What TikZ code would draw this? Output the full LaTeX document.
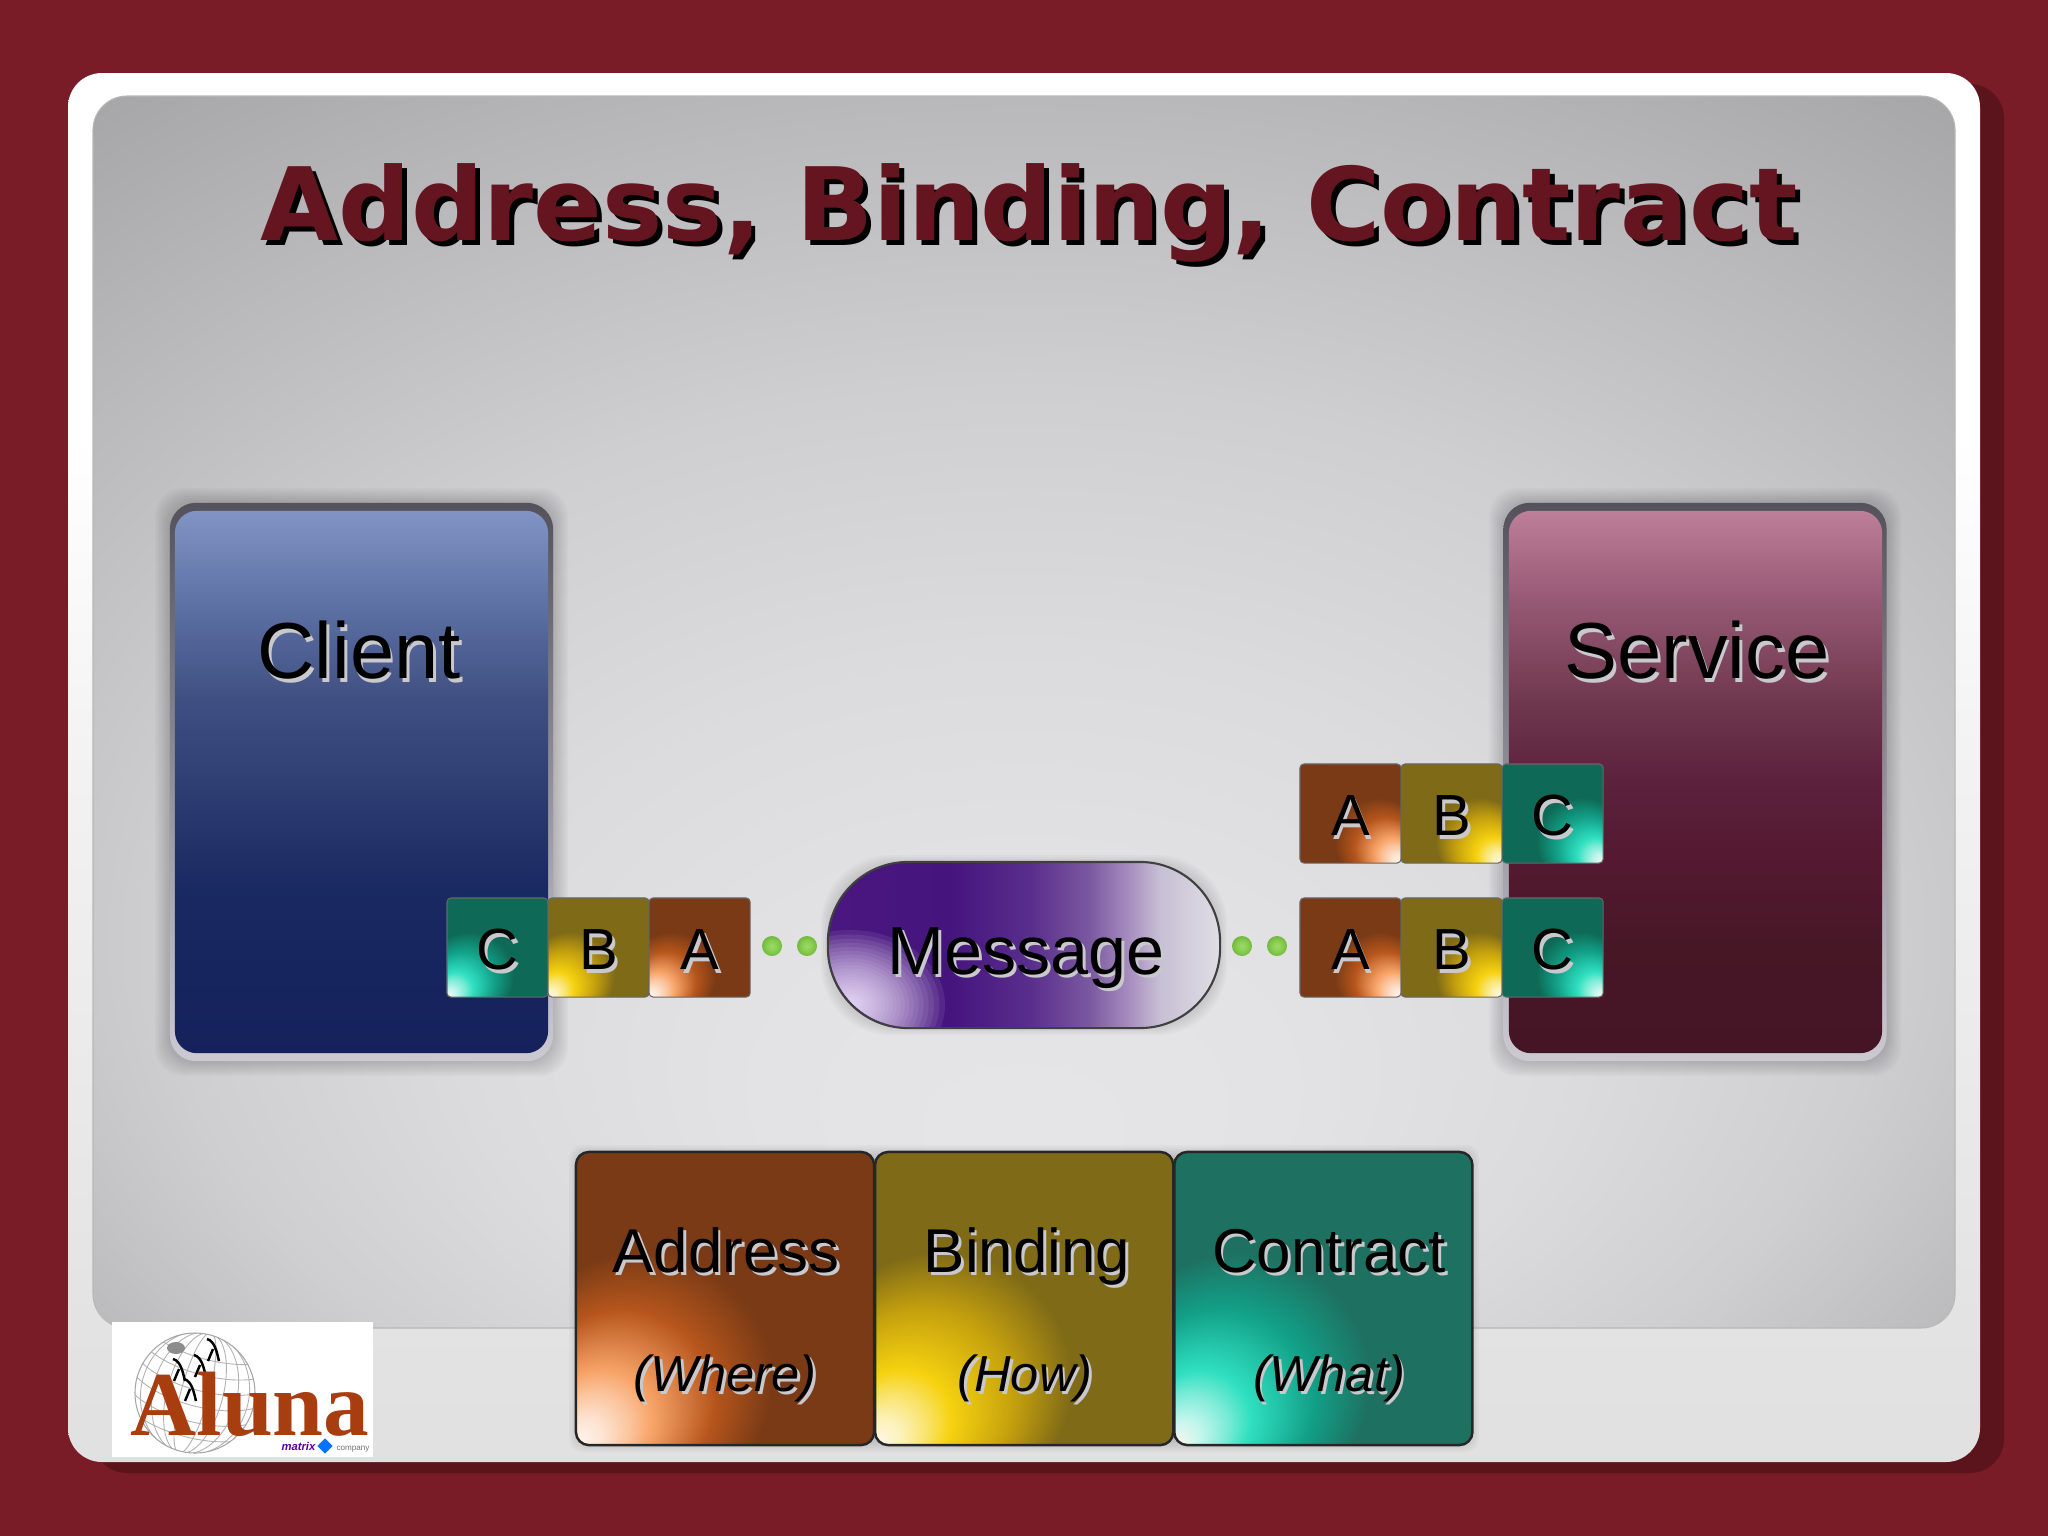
\documentclass[tikz,border=0pt]{standalone}
\usepackage{fontspec}
\usetikzlibrary{shapes.geometric}
\setmainfont{Liberation Sans}
\newfontfamily\titlefont{DejaVu Sans}
\newfontfamily\logofont{Liberation Serif}
\definecolor{slidered}{HTML}{7A1C28}
\definecolor{slidedark}{HTML}{5C141C}
\definecolor{titlered}{HTML}{65151F}
\definecolor{textshade}{HTML}{C9C9CD}
\definecolor{rust}{HTML}{A83E10}
\definecolor{pillglow}{HTML}{F2E6FF}
\pgfdeclareverticalshading{cardfill}{100bp}{color(0bp)=(white!88!black); color(25bp)=(white!88!black); color(30bp)=(white!89!black); color(50bp)=(white!95!black); color(62bp)=(white); color(100bp)=(white)}
\pgfdeclareradialshading{panelfill}{\pgfpoint{0bp}{-18bp}}{rgb(0bp)=(.90,.90,.91); rgb(7bp)=(.89,.89,.90); rgb(15bp)=(.86,.86,.87); rgb(23bp)=(.81,.81,.82); rgb(27bp)=(.77,.77,.78); rgb(31bp)=(.73,.73,.74); rgb(38.5bp)=(.65,.65,.66); rgb(50bp)=(.65,.65,.66)}
\pgfdeclareradialshading{dotfill}{\pgfpoint{0bp}{0bp}}{rgb(0bp)=(.62,.85,.42); rgb(15bp)=(.52,.80,.30); rgb(25bp)=(.45,.72,.25); rgb(50bp)=(.45,.72,.25)}
\pgfdeclareverticalshading{frameshade}{100bp}{rgb(0bp)=(.80,.79,.82); rgb(25bp)=(.80,.79,.82); rgb(45bp)=(.62,.61,.65); rgb(75bp)=(.33,.32,.36); rgb(100bp)=(.33,.32,.36)}
\pgfdeclareverticalshading{clientfill}{100bp}{rgb(0bp)=(.08,.13,.36); rgb(25bp)=(.08,.13,.36); rgb(40bp)=(.10,.16,.38); rgb(57.6bp)=(.25,.31,.51); rgb(66.8bp)=(.37,.45,.65); rgb(75bp)=(.51,.58,.77); rgb(100bp)=(.51,.58,.77)}
\pgfdeclareverticalshading{servicefill}{100bp}{rgb(0bp)=(.27,.08,.15); rgb(25bp)=(.27,.08,.15); rgb(35bp)=(.28,.09,.15); rgb(43bp)=(.33,.10,.19); rgb(50bp)=(.36,.13,.24); rgb(57.6bp)=(.44,.22,.31); rgb(66.8bp)=(.59,.35,.46); rgb(75bp)=(.74,.50,.60); rgb(100bp)=(.74,.50,.60)}
\pgfdeclarehorizontalshading{pillfill}{100bp}{rgb(0bp)=(.29,.09,.50); rgb(25bp)=(.29,.09,.50); rgb(40.5bp)=(.27,.08,.49); rgb(50.8bp)=(.35,.18,.55); rgb(58.4bp)=(.48,.35,.63); rgb(63.5bp)=(.66,.56,.75); rgb(67.3bp)=(.78,.75,.83); rgb(75bp)=(.88,.87,.90); rgb(100bp)=(.88,.87,.90)}
\definecolor{adlight}{HTML}{F8A468}\definecolor{admid}{HTML}{B5551C}\definecolor{addark}{HTML}{793A15}
\definecolor{bilight}{HTML}{F6D210}\definecolor{bimid}{HTML}{C4A00E}\definecolor{bidark}{HTML}{7F6A17}
\definecolor{colight}{HTML}{30E0C0}\definecolor{comid}{HTML}{12A088}\definecolor{codark}{HTML}{0E6A56}\definecolor{cobig}{HTML}{1E7060}
\newcommand{\cornerglow}[5]{\pgfdeclareradialshading{#1}{\pgfpoint{#2bp}{-25bp}}{rgb(0bp)=(1,.97,.94); color(3bp)=(#3!30!white); color(6bp)=(#3!65!white); color(8.5bp)=(#3); color(15.5bp)=(#4); color(22bp)=(#5); color(50bp)=(#5)}}
\cornerglow{addressleft}{-25}{adlight}{admid}{addark}
\cornerglow{bindingleft}{-25}{bilight}{bimid}{bidark}
\cornerglow{contractleft}{-25}{colight}{comid}{codark}
\cornerglow{contractbig}{-25}{colight}{comid}{cobig}
\cornerglow{addressright}{25}{adlight}{admid}{addark}
\cornerglow{bindingright}{25}{bilight}{bimid}{bidark}
\cornerglow{contractright}{25}{colight}{comid}{codark}
\newcommand{\softtext}[1]{\rlap{\kern0.8pt\raisebox{-1pt}{\color{textshade}#1}}#1}
\newcommand{\softshadow}[5]{\foreach \d in {1,3,5,7,9,11,13,15}{\fill[black,opacity=0.022,rounded corners=#5] (#1-\d,#2-\d) rectangle (#3+\d,#4+\d);}}
\begin{document}
\begin{tikzpicture}[x=0.01cm,y=-0.01cm,node distance=1.01cm]
\tikzstyle{smallbox}=[rectangle,rounded corners=0.04cm,minimum width=1.01cm,minimum height=0.99cm,inner sep=0pt,outer sep=0pt,draw=black!60,line width=0.3pt,text height=12.5pt,text depth=0pt,font=\fontsize{16.5}{20}\selectfont]
\tikzstyle{bigbox}=[rectangle,rounded corners=0.13cm,minimum width=2.98cm,minimum height=2.93cm,inner sep=0pt,outer sep=0pt,draw=black!85,line width=0.7pt]
\tikzstyle{mainbox}=[rectangle,rounded corners=0.22cm,minimum width=3.73cm,minimum height=5.42cm,inner sep=0pt,outer sep=0pt]
\tikzstyle{framebox}=[rectangle,rounded corners=0.26cm,minimum width=3.83cm,minimum height=5.58cm,inner sep=0pt,outer sep=0pt,shading=frameshade]
\tikzstyle{heading}=[inner sep=0pt,font=\fontsize{22.6}{26}\selectfont]
\tikzstyle{bigtext}=[anchor=base,inner sep=0pt,font=\fontsize{17.6}{22}\selectfont]
\tikzstyle{whytext}=[anchor=base,inner sep=0pt,font=\fontsize{14.4}{18}\itshape\selectfont]
\tikzstyle{greendot}=[circle,minimum size=0.2cm,inner sep=0pt,shading=dotfill]
\useasboundingbox (0,0) rectangle (2048,1536);
\fill[slidered] (0,0) rectangle (2048,1536);
\fill[slidedark,rounded corners=0.34cm] (93,84) rectangle (2004,1473);
\shade[shading=cardfill,rounded corners=0.34cm] (68,73) rectangle (1980,1462);
\shade[shading=panelfill,rounded corners=0.34cm,draw=black!28,line width=0.3pt] (93,96) rectangle (1955,1328);

\softshadow{170}{503}{553}{1061}{0.28cm}
\softshadow{1504}{503}{1886}{1061}{0.28cm}
\softshadow{836}{870}{1212}{1020}{0.7cm}
\softshadow{584}{1160}{1464}{1437}{0.13cm}

\node[framebox] (clientframe) at (361.5,782) {};
\node[mainbox,shading=clientfill] (client) at (361.5,782) {};
\node[heading] (clientname) at (359,652) {\softtext{Client}};
\node[framebox] (serviceframe) at (1695,782) {};
\node[mainbox,shading=servicefill] (service) at (1695.5,782) {};
\node[heading] (servicename) at (1697,652) {\softtext{Service}};

\node[smallbox,shading=contractleft] (cc) at (497.5,947.5) {\softtext{C}};
\node[smallbox,shading=bindingleft][right of=cc] (cb) {\softtext{B}};
\node[smallbox,shading=addressleft][right of=cb] (ca) {\softtext{A}};

\node[smallbox,shading=addressright] (sa) at (1350.5,813.5) {\softtext{A}};
\node[smallbox,shading=bindingright][right of=sa] (sb) {\softtext{B}};
\node[smallbox,shading=contractright][right of=sb] (sc) {\softtext{C}};
\node[smallbox,shading=addressright] (ta) at (1350.5,947.5) {\softtext{A}};
\node[smallbox,shading=bindingright][right of=ta] (tb) {\softtext{B}};
\node[smallbox,shading=contractright][right of=tb] (tc) {\softtext{C}};

\foreach \x/\nm in {772/d1,807/d2,1242/d3,1277/d4}
  \node[greendot] (\nm) at (\x,946) {};

\node[rectangle,rounded corners=0.8cm,minimum width=3.92cm,minimum height=1.66cm,inner sep=0pt,draw=black!75,line width=0.6pt,shading=pillfill] (message) at (1024,945) {};
\begin{scope}
\clip[rounded corners=0.8cm] (829,863) rectangle (1219,1027);
\foreach \s in {1,0.97,...,0.05}
  \fill[pillglow,opacity=0.09] (850,1005) ellipse ({95*\s*\s} and {75*\s*\s});
\end{scope}
\node[anchor=base,inner sep=0pt,font=\fontsize{19.4}{24}\selectfont] (messagename) at (1026,974) {\softtext{Message}};

\node[bigbox,shading=addressleft] (address) at (725,1298.5) {};
\node[bigbox,shading=bindingleft,right of=address,node distance=2.99cm] (binding) {};
\node[bigbox,shading=contractbig,right of=binding,node distance=2.99cm] (contract) {};
\node[bigtext] (addressname) at (726,1272) {\softtext{Address}};
\node[whytext] (addresswhy) at (725,1391) {\softtext{(Where)}};
\node[bigtext] (bindingname) at (1027,1272) {\softtext{Binding}};
\node[whytext] (bindingwhy) at (1025,1391) {\softtext{(How)}};
\node[bigtext] (contractname) at (1329,1272) {\softtext{Contract}};
\node[whytext] (contractwhy) at (1329,1391) {\softtext{(What)}};

\node[inner sep=0pt,font=\titlefont\bfseries\fontsize{28.8}{34}\selectfont] (title) at (1029,215)
  {\rlap{\kern1.4pt\raisebox{-1.4pt}{\color{black}Address, Binding, Contract}}\textcolor{titlered}{Address, Binding, Contract}};

\fill[white] (112,1322) rectangle (373,1457);
\begin{scope}
\clip (195,1393) ellipse (60 and 60);
\begin{scope}[rotate around={-15:(195,1393)},black!30,line width=0.25pt]
\foreach \rr in {14,28,42,54}
  \draw (195,1393) ellipse ({\rr} and 62);
\foreach \h in {-48,-32,-16,0,16,32,48}
  \draw (135,1393+\h) .. controls (165,1410+\h) and (225,1410+\h) .. (255,1393+\h);
\end{scope}
\fill[black!45] (176,1348) ellipse (9 and 6);
\end{scope}
\draw[black!35,line width=0.3pt] (195,1393) ellipse (60 and 60);
\foreach \bx/\by in {213/1353,179/1373,200/1369,190/1393}
  \draw[black,line width=0.7pt] (\bx-6,\by-14) .. controls (\bx+2,\by-12) and (\bx+4,\by) .. (\bx+6,\by+8)
    (\bx,\by-4) -- (\bx-5,\by+8);
\node[anchor=base,inner sep=0pt,text=rust,font=\logofont\bfseries\fontsize{26}{30}\selectfont] (logoname) at (250,1435) {Aluna};
\node[anchor=base east,inner sep=0pt,text=violet!70!blue,font=\bfseries\itshape\fontsize{3.2}{5}\selectfont] (logomatrix) at (316,1450) {matrix};
\node[diamond,aspect=1,inner sep=0pt,minimum size=0.16cm,fill=blue!55!cyan] (logodot) at (325,1446) {};
\node[anchor=base west,inner sep=0pt,text=black!55,font=\fontsize{2.3}{4}\selectfont] (logocompany) at (336,1450) {company};
\end{tikzpicture}
\end{document}
